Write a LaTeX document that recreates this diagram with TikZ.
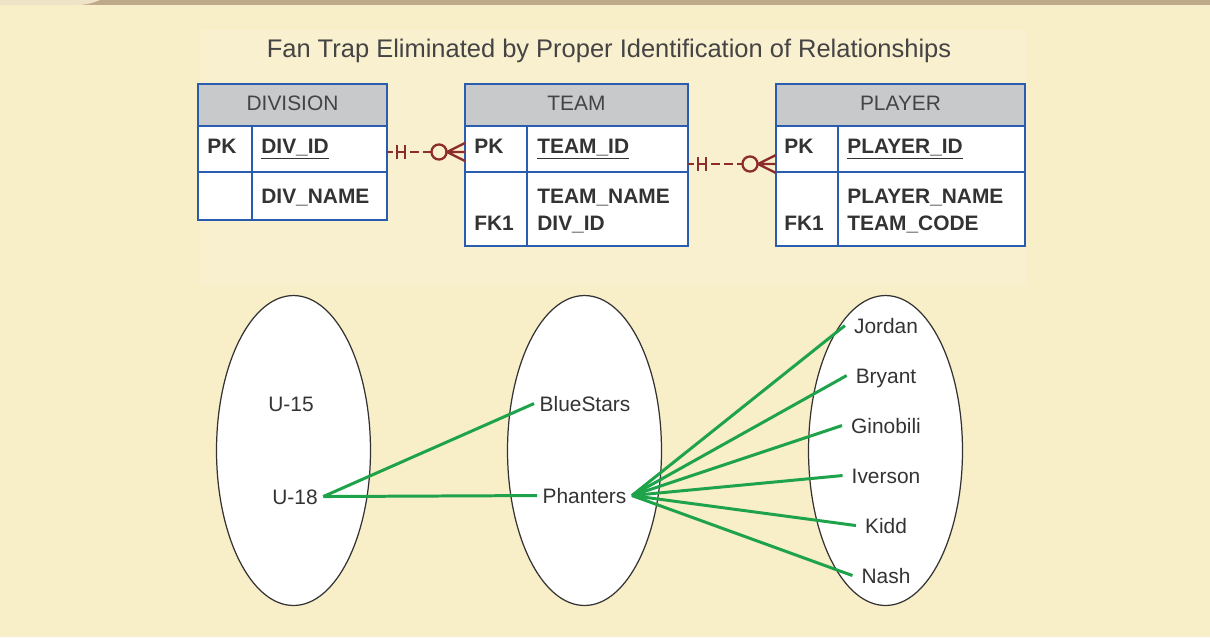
\documentclass[tikz,border=0pt]{standalone}
\usepackage{fontspec}
\setmainfont{Liberation Sans}
\usetikzlibrary{shapes.geometric, positioning, calc}

\definecolor{paper}{HTML}{F8EEC8}
\definecolor{paperlight}{HTML}{F9F0CF}
\definecolor{topbar}{HTML}{BEA988}
\definecolor{topbarlight}{HTML}{EEE3C6}
\definecolor{tblblue}{HTML}{2A5DB0}
\definecolor{hdrfill}{HTML}{C8C9CB}
\definecolor{inkgray}{HTML}{333333}
\definecolor{hdrgray}{HTML}{444444}
\definecolor{relred}{HTML}{8E2B2B}
\definecolor{linkgreen}{HTML}{1FA34A}

% table frame: left, right, column divider, row rule, bottom
\newcommand{\tablebox}[5]{%
  \draw[tblblue, line width=1.2pt, fill=white] (#1,84) rectangle (#2,#5);
  \draw[tblblue, line width=1.2pt, fill=hdrfill] (#1,84) rectangle (#2,126);
  \draw[tblblue, line width=1.2pt] (#1,#4) -- (#2,#4) (#3,126) -- (#3,#5);
}

% one-to-many link: parent side, child side
\newcommand{\relation}[2]{%
  \draw[rel] (#1) -- ++(6,0);
  \draw[rel] ($(#1)+(10,-7)$) -- ++(0,14) ($(#1)+(18,-7)$) -- ++(0,14)
             ($(#1)+(10,0)$) -- ++(8,0);
  \draw[rel, dash pattern=on 5pt off 2.4pt] ($(#1)+(23,0)$) -- ($(#2)+(-34,0)$);
  \draw[rel] ($(#2)+(-26,0)$) circle (4.3pt);
  \draw[rel] ($(#2)+(-18,0)$) -- (#2) ($(#2)+(-18,0)$) -- ++(18,-9)
             ($(#2)+(-18,0)$) -- ++(18,9);
}

\begin{document}
\begin{tikzpicture}[x=0.02cm,y=-0.02cm,
  hdr/.style={anchor=base,font=\fontsize{11.9}{14}\selectfont,text=hdrgray,inner sep=0pt},
  fld/.style={anchor=base west,font=\bfseries\fontsize{11.9}{14}\selectfont,text=inkgray,inner sep=0pt},
  item/.style={anchor=base,font=\fontsize{11.9}{14}\selectfont,text=inkgray,
    text height=8.5pt,text depth=0pt,inner xsep=3pt,inner ysep=0pt},
  playeritem/.style={item,inner xsep=5pt},
  set/.style={ellipse,draw=inkgray,line width=0.7pt,fill=white,inner sep=0pt,
    minimum width=3.08cm,minimum height=6.2cm},
  link/.style={draw=linkgreen,line width=1.7pt},
  rel/.style={draw=relred,line width=1.3pt}]

  % page
  \fill[paper] (0,0) rectangle (1210,637);
  \fill[paperlight] (200,30) rectangle (1027,285);
  \fill[topbar] (0,0) rectangle (1210,5);
  \fill[topbarlight] (0,0) -- (100,0) .. controls (90,4) and (85,5) .. (75,5) -- (0,5) -- cycle;

  \node[anchor=base,font=\fontsize{14.5}{17}\selectfont,text=hdrgray] (title) at (609,57)
    {Fan Trap Eliminated by Proper Identification of Relationships};

  % tables
  \tablebox{198}{387}{252}{172}{220}
  \tablebox{465}{688}{527}{172}{246}
  \tablebox{776}{1025}{838}{172}{246}

  \node[hdr] (divhead) at (292.5,110) {DIVISION};
  \node[fld] (divpk) at (207,153) {PK};
  \node[fld] (divid) at (261,153) {\underline{DIV\_ID}};
  \node[fld] (divname) at (261,203) {DIV\_NAME};

  \node[hdr] (teamhead) at (576.5,110) {TEAM};
  \node[fld] (teampk) at (474,153) {PK};
  \node[fld] (teamid) at (537,153) {\underline{TEAM\_ID}};
  \node[fld] (teamname) at (537,203) {TEAM\_NAME};
  \node[fld] (teamfk) at (474,230) {FK1};
  \node[fld] (teamdiv) at (537,230) {DIV\_ID};

  \node[hdr] (playerhead) at (900.5,110) {PLAYER};
  \node[fld] (playerpk) at (784,153) {PK};
  \node[fld] (playerid) at (847,153) {\underline{PLAYER\_ID}};
  \node[fld] (playername) at (847,203) {PLAYER\_NAME};
  \node[fld] (playerfk) at (784,230) {FK1};
  \node[fld] (playerteam) at (847,230) {TEAM\_CODE};

  \coordinate (divrel) at (387,152);
  \coordinate (teamrelin) at (465,152);
  \coordinate (teamrelout) at (688,164);
  \coordinate (playerrel) at (776,164);
  \relation{divrel}{teamrelin}
  \relation{teamrelout}{playerrel}

  % sets
  \node[set] (divset) at (293.5,450.5) {};
  \node[set] (teamset) at (584.5,450.5) {};
  \node[set] (playerset) at (885.5,450.5) {};

  \node[item] (u15) at (291,411) {U-15};
  \node[item] (u18) at (295,504) {U-18};
  \node[item] (bluestars) at (585,411) {BlueStars};
  \node[item] (phanters) at (584.5,503) {Phanters};
  \node[playeritem] (jordan) at (886,333) {Jordan};
  \node[playeritem] (bryant) at (886,383) {Bryant};
  \node[playeritem] (ginobili) at (886,433) {Ginobili};
  \node[playeritem] (iverson) at (886,483) {Iverson};
  \node[playeritem] (kidd) at (886,533) {Kidd};
  \node[playeritem] (nash) at (886,583) {Nash};

  \draw[link] (u18.east) -- (bluestars.west);
  \draw[link] (u18.east) -- (phanters.west);
  \foreach \p in {jordan,bryant,ginobili,iverson,kidd,nash}
    \draw[link] (phanters.east) -- (\p.west);
\end{tikzpicture}
\end{document}
